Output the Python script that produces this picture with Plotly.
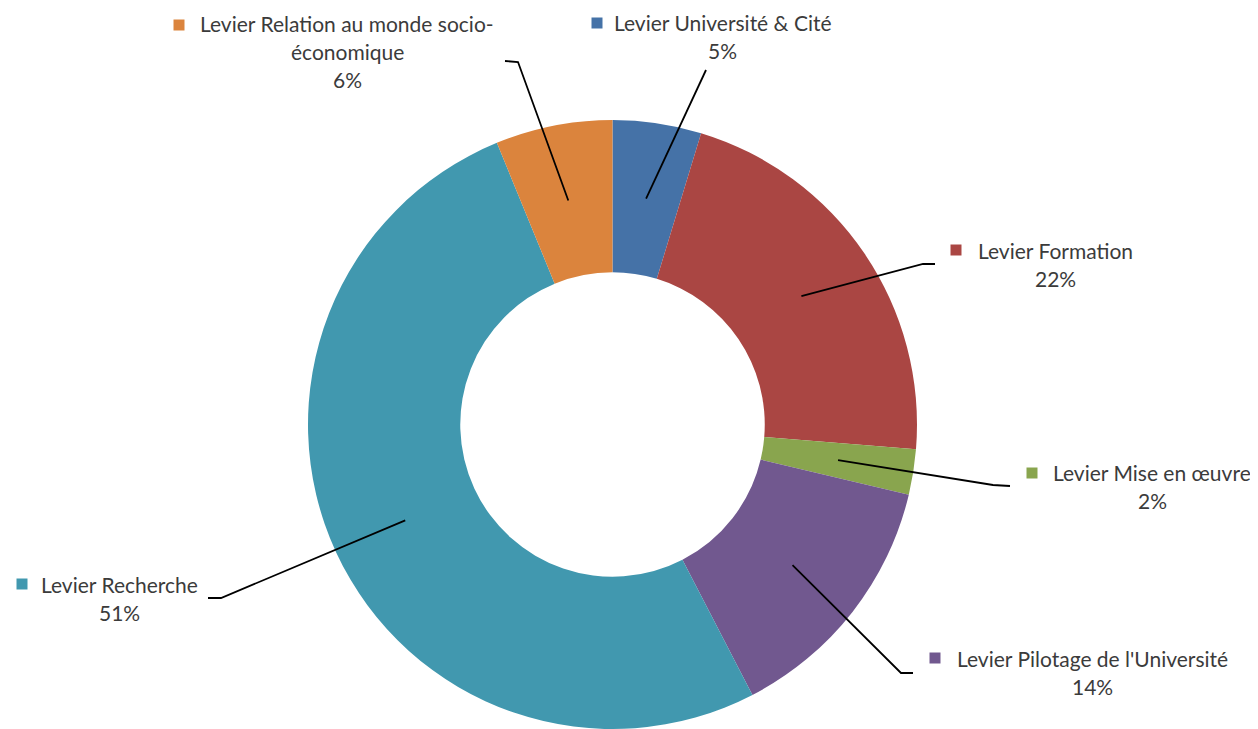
import math
import plotly.graph_objects as go

# ---- data ----
labels = ["Levier Université & Cité", "Levier Formation", "Levier Mise en œuvre",
          "Levier Pilotage de l'Université", "Levier Recherche",
          "Levier Relation au monde socio-économique"]
values = [4.7, 21.6, 2.4, 13.7, 51.4, 6.2]
label_lines = [["Levier Université & Cité"], ["Levier Formation"], ["Levier Mise en œuvre"],
               ["Levier Pilotage de l'Université"], ["Levier Recherche"],
               ["Levier Relation au monde socio-", "économique"]]
colors = ["#4572A7", "#AA4643", "#89A54E", "#71588F", "#4198AF", "#DB843D"]

# ---- layout constants (screen pixels; page body has an 8px margin) ----
OFF = 8
W, H = 1250, 721
CX, CY, R = 612.5, 424.5, 304.5
HOLE = 0.5
FONT = "Lato"
FS = 21
TXT = "#3b3b3b"

# label text centres (x, first line y) and key square centres
label_pos = [(723, 23), (1055, 250), (1152, 472), (1092, 658), (119, 584), (347, 24)]
key_pos = [(597, 23), (956, 250), (1032, 473), (935, 658), (22, 584), (179, 25)]
# leader-line outer end + elbow
leader = [[(706, 70)], [(935, 264), (923, 264)], [(1010, 486), (993, 485)],
          [(913, 673), (901, 673)], [(208, 598), (221, 598)], [(505, 61), (518, 62)]]
LINE_H = 28


def px(x):
    return (x - OFF) / W


def py(y):
    return 1 - (y - OFF) / H


fig = go.Figure(go.Pie(
    labels=labels, values=values, sort=False, direction="clockwise", rotation=0,
    hole=HOLE, marker=dict(colors=colors, line=dict(width=0)),
    textinfo="none", showlegend=False,
    domain=dict(x=[px(CX - R), px(CX + R)], y=[max(0, py(CY + R)), py(CY - R)]),
))

total = sum(values)
cum = 0.0
shapes, annotations = [], []
for i, v in enumerate(values):
    mid = (cum + v / 2) / total
    cum += v
    ang = 2 * math.pi * mid
    rm = R * (1 + HOLE) / 2
    tx, ty = CX + rm * math.sin(ang), CY - rm * math.cos(ang)
    pts = [(tx, ty)] + list(reversed(leader[i]))
    path = "M " + " L ".join(f"{px(x)},{py(y)}" for x, y in pts)
    shapes.append(dict(type="path", path=path, xref="paper", yref="paper",
                       line=dict(color="black", width=1.8)))
    kx, ky = key_pos[i]
    shapes.append(dict(type="rect", xref="paper", yref="paper",
                       x0=px(kx - 5.5), x1=px(kx + 5.5), y0=py(ky + 5.5), y1=py(ky - 5.5),
                       fillcolor=colors[i], line=dict(width=0)))
    lx, ly = label_pos[i]
    lines = label_lines[i] + [f"{round(100 * v / total)}%"]
    for j, t in enumerate(lines):
        annotations.append(dict(text=t, x=px(lx), y=py(ly + j * LINE_H), xref="paper", yref="paper",
                                xanchor="center", yanchor="middle", showarrow=False,
                                font=dict(family=FONT, size=FS, color=TXT)))

fig.update_layout(width=W, height=H, margin=dict(l=0, r=0, t=0, b=0),
                  paper_bgcolor="white", plot_bgcolor="white",
                  shapes=shapes, annotations=annotations)
fig.write_html("out.html")
